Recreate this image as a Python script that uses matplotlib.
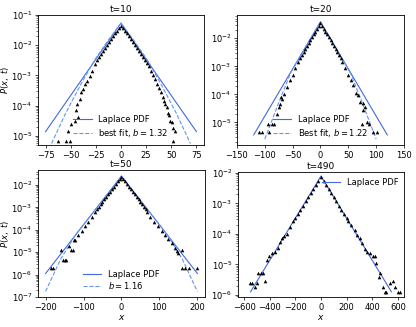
import numpy as np
import matplotlib
matplotlib.use("Agg")
import matplotlib.pyplot as plt
from matplotlib.ticker import MultipleLocator

# values; y values given as log10 P(x, t)

# t = 10
x10 = [0, -2, 2, -4, 4, -6, 6, -8, 8, -10, 10, -12, 12, -14, 14, -16, 16,
       -18, 18, -20, 20, -22, 22, -24, 24,
       -26, -28.7, -31, -33.4, -36, -37.7, -39.4, -41, -43.4, -44.5, -42.7,
       -46, -49.4, -52.7, -50.4, -54.4, -62.7,
       26, 28, 30, 32, 34, 36, 38, 40, 42, 43, 44, 46, 47, 48, 49, 51, 52,
       54, 52]
lp10 = [-1.35, -1.43, -1.43, -1.52, -1.52, -1.61, -1.61, -1.71, -1.71,
        -1.80, -1.80, -1.90, -1.90, -2.00, -2.00, -2.10, -2.10, -2.19, -2.19,
        -2.29, -2.29, -2.39, -2.39, -2.49, -2.49,
        -2.62, -2.84, -3.01, -3.18, -3.28, -3.45, -3.56, -3.78, -3.95, -4.15,
        -4.39, -4.50, -4.61, -4.85, -5.16, -5.16, -5.16,
        -2.58, -2.70, -2.85, -2.98, -3.12, -3.28, -3.40, -3.55, -3.72, -3.85,
        -3.95, -4.05, -4.25, -4.30, -4.50, -4.55, -4.75, -4.85, -5.16]
lap10_x = [-75, 0, 75]
lap10_lp = [-4.86, -1.27, -4.86]
fit10_x = [-69, -55, -40, -26, -13, 0, 13, 26, 40, 55, 69]
fit10_lp = [-5.25, -4.25, -3.30, -2.48, -1.85, -1.27, -1.85, -2.48, -3.30,
            -4.25, -5.25]

# t = 20
x20 = [0, -3, 3, -6, 6, -9, 9, -12, 12, -15, 15, -18, 18, -21, 21, -24, 24,
       -27, 27, -30, 30, -33, 33, -36, 36,
       -40, -45.8, -50, -54.8, -59.6, -66, -71, -69.2, -72.2, -75, -78,
       -84.1, -87.1, -94.8, -93, -105, -111,
       38, 44, 50, 54.2, 59, 63.8, 68, 71, 75.8, 80, 77, 83, 87, 74, 95, 101]
lp20 = [-1.45, -1.55, -1.55, -1.66, -1.66, -1.76, -1.76, -1.86, -1.86,
        -1.97, -1.97, -2.07, -2.07, -2.18, -2.18, -2.28, -2.28, -2.39, -2.39,
        -2.49, -2.49, -2.60, -2.60, -2.71, -2.71,
        -2.84, -3.07, -3.31, -3.49, -3.73, -3.99, -4.11, -4.17, -4.35, -4.46,
        -4.70, -5.06, -5.06, -5.06, -5.36, -5.36, -5.36,
        -2.84, -3.07, -3.31, -3.49, -3.67, -3.96, -4.02, -4.26, -4.32, -4.44,
        -4.56, -4.98, -5.06, -5.06, -5.36, -5.36]
lap20_x = [-120, 0, 120]
lap20_lp = [-5.45, -1.41, -5.45]
fit20_x = [-100, -77, -54, -27, 0, 27, 54, 77, 100]
fit20_lp = [-5.60, -4.40, -3.25, -2.32, -1.41, -2.32, -3.25, -4.40, -5.60]

# t = 50
x50 = [0, -5, 5, -10, 10, -15, 15, -20, 20, -25, 25, -30, 30, -35, 35,
       -40, 40, -45, 45, -50, 50, -55, 55, -60, 60, -65, 65,
       -69.8, -78.5, -87.5, -96.2, -104.9, -113.8, -122.5, -125, -128, -132,
       -139, -160, -154, -150, -145, -185, -180,
       66.4, 75, 85.6, 97, 106, 114.6, 123.4, 132, 141, 145.4, 150, 158.6,
       158.6, 167.4, 178.8, 198]
lp50 = [-1.62, -1.73, -1.73, -1.84, -1.84, -1.96, -1.96, -2.07, -2.07,
        -2.18, -2.18, -2.29, -2.29, -2.40, -2.40, -2.52, -2.52, -2.63, -2.63,
        -2.74, -2.74, -2.85, -2.85, -2.97, -2.97, -3.08, -3.08,
        -3.19, -3.41, -3.63, -3.85, -4.03, -4.22, -4.44, -4.44, -4.92, -4.89,
        -4.74, -4.89, -5.36, -5.36, -5.36, -5.70, -5.70,
        -3.19, -3.41, -3.63, -3.82, -4.03, -4.22, -4.41, -4.59, -4.81, -4.96,
        -5.02, -4.89, -5.70, -5.70, -5.70, -5.70]
lap50_x = [-200, 0, 200]
lap50_lp = [-5.95, -1.60, -5.95]
fit50_x = [-200, -160, -120, -60, 0, 60, 120, 160, 200]
fit50_lp = [-6.75, -5.30, -4.20, -2.90, -1.60, -2.90, -4.20, -5.30, -6.75]

# t = 490
x490 = [0, -20, 20, -40, 40, -60, 60, -80, 80, -100, 100, -120, 120,
        -140, 140, -160, 160, -180, 180, -200, 200,
        -217.6, -243, -269, -288, -308, -321, -334.6, -360, -386, -405, -420,
        -451, -470, -490, -438, -503, -516, -542, -555,
        211, 238, 264, 282, 303, 324, 342, 360, 381, 406, 420, 433, 453, 464,
        485, 498, 511, 537, 562, 576, 601, 615]
lp490 = [-2.12, -2.26, -2.26, -2.39, -2.39, -2.53, -2.53, -2.66, -2.66,
         -2.80, -2.80, -2.93, -2.93, -3.07, -3.07, -3.20, -3.20, -3.34, -3.34,
         -3.47, -3.47,
         -3.59, -3.76, -4.00, -4.08, -4.14, -4.25, -4.47, -4.58, -4.63, -4.74,
         -4.87, -5.27, -5.27, -5.27, -5.53, -5.62, -5.73, -5.62, -5.62,
         -3.59, -3.70, -3.86, -4.03, -4.14, -4.30, -4.50, -4.58, -4.63, -4.74,
         -4.74, -4.96, -5.42, -5.29, -5.73, -5.89, -5.89, -5.62, -5.53, -5.73,
         -5.89, -5.91]
lap490_x = [-550, 0, 550]
lap490_lp = [-5.90, -2.10, -5.90]

plt.rcParams["font.size"] = 6
plt.rcParams["axes.linewidth"] = 0.6
plt.rcParams["xtick.major.size"] = 2.5
plt.rcParams["ytick.major.size"] = 2.5
plt.rcParams["xtick.minor.size"] = 1.5
plt.rcParams["ytick.minor.size"] = 1.5
plt.rcParams["xtick.major.width"] = 0.5
plt.rcParams["ytick.major.width"] = 0.5
plt.rcParams["ytick.minor.width"] = 0.4

LAP = "#4169e1"
FIT = "#6495ed"

fig = plt.figure(figsize=(4.16, 3.27), dpi=100)
ax1 = fig.add_axes([0.0913, 0.5566, 0.399, 0.3976])
ax2 = fig.add_axes([0.5697, 0.5566, 0.4014, 0.3976])
ax3 = fig.add_axes([0.0913, 0.0917, 0.4014, 0.3884])
ax4 = fig.add_axes([0.5721, 0.0917, 0.399, 0.3823])


def panel(ax, x, lp, lx, llp, fx=None, flp=None, fit_label=None):
    ax.plot(x, 10.0 ** np.array(lp), "^", color="black", ms=2.6, mew=0,
            zorder=3)
    ax.plot(lx, 10.0 ** np.array(llp), "-", color=LAP, lw=0.8,
            label="Laplace PDF")
    if fx is not None:
        ax.plot(fx, 10.0 ** np.array(flp), "--", color=FIT, lw=0.8,
                label=fit_label)
    ax.set_yscale("log")


leg_kw = dict(frameon=False, fontsize=6, handlelength=2.2,
              borderaxespad=0.3)

panel(ax1, x10, lp10, lap10_x, lap10_lp, fit10_x, fit10_lp,
      r"best fit, $b = 1.32$")
ax1.set_xlim(-82.5, 82.5)
ax1.set_ylim(5e-6, 1e-1)
ax1.xaxis.set_major_locator(MultipleLocator(25))
ax1.set_title("t=10", fontsize=6.5, pad=2)
ax1.set_ylabel(r"$P(x,\ t)$", fontsize=6)
ax1.yaxis.set_label_coords(-0.16, 0.5)
ax1.legend(loc="lower center", labelspacing=0.35, **leg_kw)

panel(ax2, x20, lp20, lap20_x, lap20_lp, fit20_x, fit20_lp,
      r"Best fit, $b = 1.22$")
ax2.set_xlim(-150, 150)
ax2.set_ylim(1.55e-6, 0.068)
ax2.xaxis.set_major_locator(MultipleLocator(50))
ax2.set_title("t=20", fontsize=6.5, pad=2)
ax2.legend(loc="lower center", labelspacing=0.35, **leg_kw)

panel(ax3, x50, lp50, lap50_x, lap50_lp, fit50_x, fit50_lp, r"$b = 1.16$")
ax3.set_xlim(-220, 220)
ax3.set_ylim(1e-7, 0.047)
ax3.xaxis.set_major_locator(MultipleLocator(100))
ax3.set_title("t=50", fontsize=6.5, pad=2)
ax3.set_ylabel(r"$P(x,\ t)$", fontsize=6)
ax3.yaxis.set_label_coords(-0.159, 0.5)
ax3.set_xlabel(r"$x$", fontsize=6.5, labelpad=1)
ax3.legend(loc="lower center", labelspacing=0.2, **leg_kw)

panel(ax4, x490, lp490, lap490_x, lap490_lp)
ax4.set_xlim(-648, 648)
ax4.set_ylim(8.5e-7, 0.0108)
ax4.xaxis.set_major_locator(MultipleLocator(200))
ax4.set_title("t=490", fontsize=6.5, pad=2)
ax4.set_xlabel(r"$x$", fontsize=6.5, labelpad=1)
ax4.legend(loc="upper right", **leg_kw)

for ax in (ax1, ax2, ax3, ax4):
    ax.tick_params(labelsize=6, pad=1.5)

fig.savefig("out.png", dpi=100)
